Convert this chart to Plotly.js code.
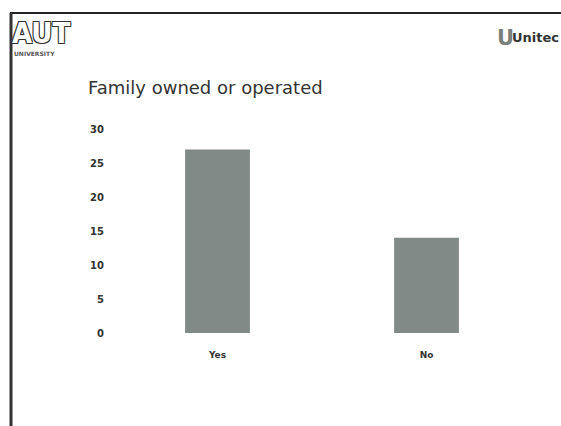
<!DOCTYPE html>
<html>
<head>
<meta charset="utf-8">
<script src="https://cdn.plot.ly/plotly-3.0.1.min.js"></script>
<style>html,body{margin:0;padding:0;background:#fff;}#chart{width:561px;height:426px;}</style>
</head>
<body>
<div id="chart"></div>
<script>
const categories = ["Yes", "No"];
const values = [27, 14];
const yTicks = [0, 5, 10, 15, 20, 25, 30];
const titleText = "Family owned or operated";

const trace = {
  type: "bar",
  x: categories,
  y: values,
  marker: {color: "#818a86", line: {width: 0}},
  hoverinfo: "none"
};

const layout = {
  width: 561, height: 426,
  paper_bgcolor: "#ffffff", plot_bgcolor: "#ffffff",
  margin: {l: 113, r: 30, t: 129, b: 93},
  bargap: 0.69,
  showlegend: false,
  title: {
    text: titleText,
    font: {family: "DejaVu Sans", size: 18, color: "#333333"},
    xref: "container", yref: "container",
    x: 88/561, xanchor: "left",
    y: 1 - 88/426, yanchor: "middle"
  },
  xaxis: {
    type: "category",
    range: [-0.5, 1.5],
    showgrid: false, zeroline: false, showline: false,
    ticks: "", ticklabelstandoff: 15,
    tickfont: {family: "DejaVu Sans", size: 9, color: "#333333", weight: "bold"}
  },
  yaxis: {
    range: [0, 30],
    tickvals: yTicks,
    ticktext: yTicks.map(String),
    showgrid: false, zeroline: false, showline: false,
    ticks: "", ticklabelstandoff: 8,
    tickfont: {family: "DejaVu Sans", size: 10, color: "#333333", weight: "bold"}
  },
  shapes: [
    {type: "line", xref: "paper", yref: "paper", x0: -103/418, x1: 448/418, y0: (426-93-13)/204, y1: (426-93-13)/204, line: {color: "#222222", width: 2}, layer: "above"},
    {type: "line", xref: "paper", yref: "paper", x0: -102/418, x1: -102/418, y0: (426-93-13)/204, y1: -93/204, line: {color: "#333333", width: 3}, layer: "above"}
  ],
  annotations: [
    {text: "AUT", xref: "paper", yref: "paper", x: -103/418, y: (426-93-14)/204, xanchor: "left", yanchor: "top", showarrow: false,
     font: {family: "DejaVu Sans Condensed", size: 29, color: "#ffffff", weight: "bold",
            shadow: "1px 1px 0 #333, -1px -1px 0 #333, 1px -1px 0 #333, -1px 1px 0 #333"}},
    {text: "UNIVERSITY", xref: "paper", yref: "paper", x: -101/418, y: (426-93-48)/204, xanchor: "left", yanchor: "top", showarrow: false,
     font: {family: "DejaVu Sans", size: 6, color: "#555555", weight: "bold"}},
    {text: "U", xref: "paper", yref: "paper", x: 382/418, y: (426-93-24)/204, xanchor: "left", yanchor: "top", showarrow: false,
     font: {family: "DejaVu Sans", size: 21, color: "#7a7f7c", weight: "bold"}},
    {text: "Unitec", xref: "paper", yref: "paper", x: 397/418, y: (426-93-28)/204, xanchor: "left", yanchor: "top", showarrow: false,
     font: {family: "DejaVu Sans", size: 13, color: "#333333", weight: "bold"}}
  ]
};

Plotly.newPlot("chart", [trace], layout, {displayModeBar: false, staticPlot: true});
</script>
</body>
</html>
